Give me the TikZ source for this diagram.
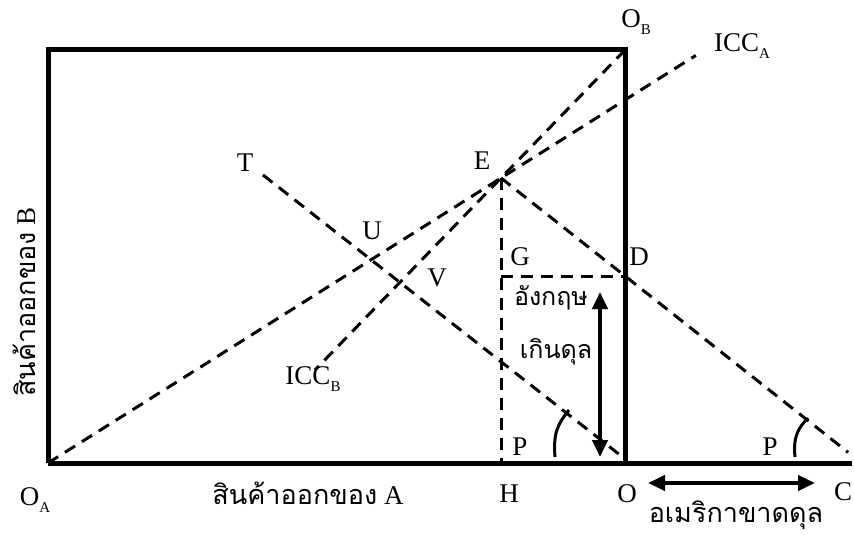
\documentclass[tikz,border=0pt]{standalone}
\usepackage{fontspec}
\setmainfont{Liberation Serif}
\newfontfamily\thaifont[Script=Thai]{Loma}
\usetikzlibrary{arrows.meta, calc}

\newcommand{\lowsub}[1]{\raisebox{-0.28em}{\fontsize{15}{15}\selectfont #1}}

\begin{document}
\begin{tikzpicture}[x=1pt, y=-1pt,
    frame/.style={line width=5pt},
    guide/.style={line width=3pt, dash pattern=on 12pt off 8pt},
    dblarrow/.style={line width=4pt, {Triangle[length=17pt,width=15pt]}-{Triangle[length=17pt,width=15pt]}},
    anglemark/.style={line width=3pt},
    lbl/.style={font=\fontsize{27}{30}\selectfont, inner sep=0pt},
    thai/.style={font=\fontsize{27}{30}\selectfont, inner sep=0pt}]
\useasboundingbox (0,0) rectangle (854,535);

% Key points of the box diagram
\coordinate (OA) at (48,463);
\coordinate (OB) at (625,50);
\coordinate (E) at (501,178);
\coordinate (D) at (625,276);
\coordinate (G) at (501,276);
\coordinate (H) at (501,463);
\coordinate (O) at (625,463);
\coordinate (Cend) at (852,463);
\coordinate (Tstart) at (263,175);
\coordinate (Tend) at (620,455);

% Box and export axis
\draw[frame] (OA) -- (Cend);
\draw[frame] (OA) |- (OB) -- (O);

% Contract curves and price lines
\draw[guide] (OA) -- ($(OA)!1.43!(E)$);
\draw[guide] (OB) -- ($(OB)!2.5!(E)$);
\draw[guide] (E) -- ($(E)!2.8!(D)$);
\draw[guide] (Tstart) -- (Tend);
\draw[guide] (E) -- (H);
\draw[guide] (G) -- (D);

% Surplus / deficit arrows
\coordinate (SurTop) at (600,292);
\coordinate (SurBot) at (600,457);
\coordinate (DefL) at (648,483);
\coordinate (DefR) at (815,483);
\draw[dblarrow] (SurTop) -- (SurBot);
\draw[dblarrow] (DefL) -- (DefR);

% Angle marks
\draw[anglemark] (555,457) .. controls (553,432) and (558,424) .. (569,410);
\draw[anglemark] (795,457) .. controls (793,437) and (798,428) .. (808,418);

% Point labels
\node[lbl] (lOB) at (636,22) {O\lowsub{B}};
\node[lbl] (lICCA) at (742,46) {ICC\lowsub{A}};
\node[lbl] (lICCB) at (313,379) {ICC\lowsub{B}};
\node[lbl] (lT) at (245,163) {T};
\node[lbl] (lU) at (372,231) {U};
\node[lbl] (lV) at (437,278) {V};
\node[lbl] (lE) at (482,161) {E};
\node[lbl] (lG) at (520,257) {G};
\node[lbl] (lD) at (639,257) {D};
\node[lbl] (lP1) at (520,447) {P};
\node[lbl] (lP2) at (770,447) {P};
\node[lbl] (lH) at (509,494) {H};
\node[lbl] (lO) at (627,494) {O};
\node[lbl] (lC) at (843,492) {C};
\node[lbl] (lOA) at (35,500) {O\lowsub{A}};

% Thai texts
\node[thai] (xlab) at (308,493) {{\thaifont สินค้าออกของ} A};
\node[thai, rotate=90] (ylab) at (24,302) {{\thaifont สินค้าออกของ} B};
\node[thai, font=\fontsize{25}{28}\selectfont] (uk1) at (551,298) {\thaifont อังกฤษ};
\node[thai, font=\fontsize{25}{28}\selectfont] (uk2) at (556,352) {\thaifont เกินดุล};
\node[thai] (us) at (736,515) {\thaifont อเมริกาขาดดุล};
\end{tikzpicture}
\end{document}
